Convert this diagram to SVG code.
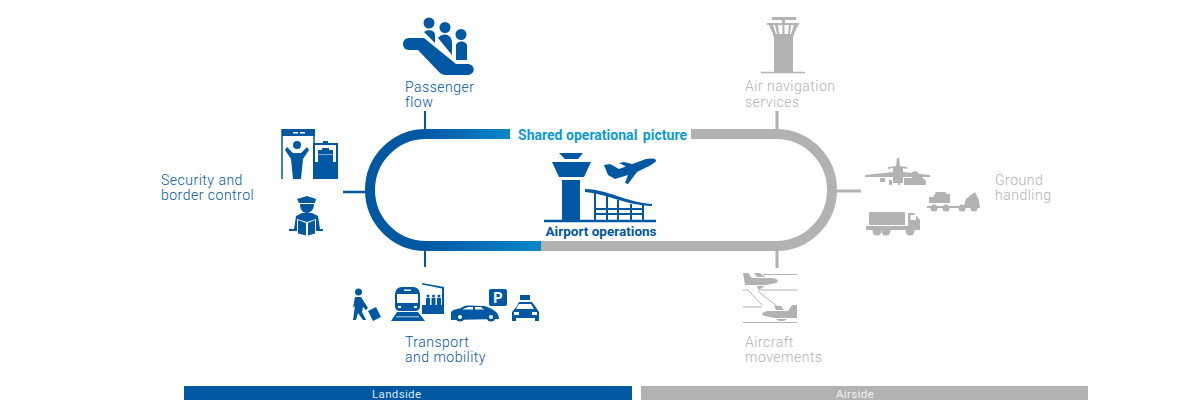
<svg xmlns="http://www.w3.org/2000/svg" width="1200" height="400" viewBox="0 0 1200 400">
<style>
text{font-family:Roboto,"Liberation Sans",sans-serif}
.l{font-size:14px;letter-spacing:.5px;font-weight:300}
.b{fill:#0058a3}.g{fill:#b2b2b2}
.sb{stroke:#0058a3;fill:none}.sg{stroke:#b2b2b2;fill:none}
.w{fill:#fff}
</style>
<defs>
<linearGradient id="gt" gradientUnits="userSpaceOnUse" x1="426" y1="0" x2="510" y2="0"><stop offset="0" stop-color="#0058a3"/><stop offset="1" stop-color="#0a86c8"/></linearGradient>
<linearGradient id="gb" gradientUnits="userSpaceOnUse" x1="426" y1="0" x2="541" y2="0"><stop offset="0" stop-color="#0058a3"/><stop offset="1" stop-color="#0a86c8"/></linearGradient>
</defs>
<g id="connectors">
<path d="M426 134H510" stroke="url(#gt)" stroke-width="10" fill="none"/>
<path d="M426 246H541" stroke="url(#gb)" stroke-width="10" fill="none"/>
<path class="sb" stroke-width="10" d="M427 134H426A56 56 0 0 0 370 190A56 56 0 0 0 426 246H427"/>
<path class="sg" stroke-width="10" d="M691 134H776A56 56 0 0 1 832 190A56 56 0 0 1 776 246H541"/>
<path class="sb" stroke-width="2" d="M425 111V130M425 250V267"/>
<path class="sb" stroke-width="2.5" d="M343 192H366"/>
<path class="sg" stroke-width="3" d="M777 111V130M777 250V268M835 191H861"/>
</g>
<g id="shared-picture"><text x="518" y="140" font-size="14" font-weight="700" fill="#0a9ad7" letter-spacing=".02">Shared operational <tspan dx="2">picture</tspan></text></g>
<g id="airport-operations">
<path class="b" d="M559 153H583L578 159H565ZM552 162H591L584 177H559ZM562 180H580V220H562Z"/>
<path class="sb" stroke-width="2.500" d="M544 221H656"/>
<path class="b" d="M585 189C610 190 625 202 652 204V206C625 205 608 194 585 192Z"/>
<path class="sb" stroke-width="2" d="M595 192V220M607 196V220M618 200V220M631 204V220M643 205V220M594 209H643M594 214H643"/>
<path class="b" d="M604 165L610 164L619 169L646 159C650 158 657 158 656 161C654 164 645 168 637 172L628 184L625 183L628 175L615 179L608 175ZM619 163L624 162L632 164L627 167Z"/>
<text x="545.500" y="236" font-size="13.500" font-weight="700" fill="#0058a3" letter-spacing=".02">Airport operations</text>
</g>
<g id="passenger-flow">
<circle class="b" cx="429" cy="23" r="5.500"/><circle class="b" cx="445" cy="27.500" r="5.500"/><circle class="b" cx="461" cy="34.500" r="5.500"/>
<path class="b" d="M424 32C428 29 435 30 435 35V43ZM438 38C443 32 452 34 452 43V55ZM456 60V46C456 40 467 40 467 46V60Z"/>
<path class="b" d="M409 38H424L456 64H467C476 64 476 75 467 75H446C442 75 440 73 438 71L418 50H409C401 50 401 38 409 38Z"/>
<text class="l b" x="405" y="92">Passenger</text><text class="l b" x="405" y="107">flow</text>
</g>
<g id="security-border">
<path class="sb" stroke-width="1.500" d="M282 179V130H314V143"/>
<path class="b" d="M282 129H315V136H282Z"/>
<path class="w" d="M293 132H298V133.500H293ZM300 132H305V133.500H300Z"/>
<circle class="b" cx="297" cy="145" r="4"/>
<path class="b" d="M285 150L287 147L293 153H301L307 147L309 150L303 159L301 179H293L291 159Z"/>
<path class="b" d="M313 143H338V179H313ZM315 145V162H336V145Z"/>
<path class="b" d="M318 150H333V162H318Z"/><path class="w" d="M316 154H335V154.500H316Z"/>
<path class="b" d="M323 141H328V144H323ZM322 148H329V150H322Z"/>
<path class="b" d="M297 199L307 196L316 199L315 203H299ZM300 204H314C314 210 310 213 307 213C303 213 300 210 300 204Z"/>
<path class="b" d="M296 216L302 213H312L318 216L320 229H294Z"/>
<path class="b" d="M289 229H323V231H289Z"/>
<path class="w" d="M297 219L307 222L316 219V235L307 237L297 235Z"/><path class="b" d="M298 220L306 223V235.500L298 233.500ZM308 223L315 220V233.500L308 235.500Z"/>
<text class="l b" x="161" y="185">Security and</text><text class="l b" x="161" y="200">border control</text>
</g>
<g id="transport-mobility">
<circle class="b" cx="358.500" cy="292" r="3.500"/>
<path class="b" d="M355 297H361L368 308L366 310L363 307L362 312L366 320H363L358 313L356 320H353L355 306L353 308Z"/>
<path class="b" d="M368 311L376 307L381 317L373 321Z"/>
<path class="b" d="M402 287H413C418 287 420 291 420 295V306C420 309 418 311 415 311H400C397 311 395 309 395 306V295C395 291 397 287 402 287Z"/>
<path class="w" d="M397 294H418V303H397ZM398 306H401V308H398ZM414 306H417V308H414ZM404 289.500H411V291H404Z"/>
<path class="b" d="M397 312H418L425 321H391Z"/><path class="w" d="M396 316.500H419V317.200H396Z"/>
<path class="b" d="M422 305V314H444V287L422 283V284.500L442 288.500V305Z"/>
<path class="b" d="M426 298H430V305H426ZM431.500 298H435.500V305H431.500ZM437 298H441V305H437Z"/><circle class="b" cx="428" cy="296" r="1.500"/><circle class="b" cx="433.500" cy="296" r="1.500"/><circle class="b" cx="439" cy="296" r="1.500"/>
<path class="b" d="M451 313C451 310 457 309 461 308C466 304 470 306 484 306C492 308 499 312 499 319L451 320Z"/>
<circle class="b" cx="460" cy="317" r="4.500"/><circle class="b" cx="491" cy="317" r="4.500"/>
<circle class="w" cx="460" cy="317" r="2"/><circle class="w" cx="491" cy="317" r="2"/>
<path class="w" d="M463 309L468 307H473V309.500H463ZM475 307H481L484 309.500H475Z"/>
<rect class="b" x="489" y="289" width="18" height="17" rx="2"/>
<text x="498" y="302.500" text-anchor="middle" font-size="14.500" font-weight="700" fill="#fff">P</text>
<rect class="b" x="520" y="295" width="10" height="5"/>
<path class="b" d="M517 306L519 302H532L535 306L539 312V321H535V318H516V321H512V312Z"/>
<path class="w" d="M519 304H531L534 309H516ZM514 312H519V315H514ZM532 312H537V315H532Z"/>
<text class="l b" x="405" y="347">Transport</text><text class="l b" x="405" y="362">and mobility</text>
</g>
<g id="air-navigation">
<path class="g" d="M772 17H796V20H772ZM782 20H785V24H782ZM767 23H799V25H767ZM769 25H773L776 34H773ZM775 25H778L779 34H777ZM782.500 25H784.500V34H782.500ZM789 25H791L790 34H788ZM794 25H798L794 34H791ZM773 34H794V36H773ZM774 36H793V72H774Z"/>
<path class="sg" stroke-width="1.500" d="M761 72.500H805"/>
<text class="l g" x="745" y="91">Air navigation</text><text class="l g" x="745" y="107">services</text>
</g>
<g id="ground-handling">
<path class="g" d="M865 175L893 172V168L888 169V167L896 166L897 158H899L900 166L907 167V169L903 168V172L930 175V177L903 177V183H893V177L865 177Z"/>
<path class="g" d="M904 178H912V172L916 171L926 181V185H904Z"/>
<path class="g" d="M880 178H885V182H880ZM889 180H892V185H889Z"/>
<path class="g" d="M898 178H900V185H898Z"/>
<path class="g" d="M927 203V206H964L966 199L971 195L975 192L979 200L980 208H927Z"/>
<path class="g" d="M929 197H933L936 192H945L947 194H950V203H929Z"/>
<circle class="g" cx="934" cy="208" r="3.500"/><circle class="g" cx="946" cy="208" r="3.500"/><circle class="g" cx="962" cy="208" r="3.500"/><circle class="g" cx="974" cy="208" r="3.500"/>
<path class="g" d="M869 212H905V225H869ZM908 213H914L920 220V230H866V226H908Z"/>
<path class="w" d="M910.500 215H916V220H910.500Z"/>
<circle class="g" cx="877" cy="231" r="4.500"/><circle class="g" cx="886" cy="231" r="4.500"/><circle class="g" cx="910" cy="231" r="4.500"/>
<text class="l g" x="995" y="185">Ground</text><text class="l g" x="995" y="200">handling</text>
</g>
<g id="aircraft-movements">
<path class="g" d="M743 273H748L752 278L772 278C779 279 779 282 776 283L766 285L758 285H745ZM754 273H760L765 277H757ZM757 286H765L760 289H758Z"/>
<path class="sg" stroke-width="1" d="M763 274.500H797M743 290H748L762 305M758 290H797M758 291L778 307M743 307H762M743 322.500H797"/>
<path class="g" d="M797 305L792 305L788 311L768 311C761 312 761 315 765 316L775 318H797ZM774 306H781L784 310H776ZM776 319H787L784 321H779Z"/>
<text class="l g" x="745" y="347">Aircraft</text><text class="l g" x="745" y="362">movements</text>
</g>
<g id="landside"><rect class="b" x="184" y="386" width="448" height="14"/><text x="372" y="398" font-size="11.500" letter-spacing=".35" fill="#dce8f3">Landside</text></g>
<g id="airside"><rect class="g" x="641" y="386" width="447" height="14"/><text x="836" y="398" font-size="11.500" letter-spacing=".35" fill="#f2f2f2">Airside</text></g>
</svg>
